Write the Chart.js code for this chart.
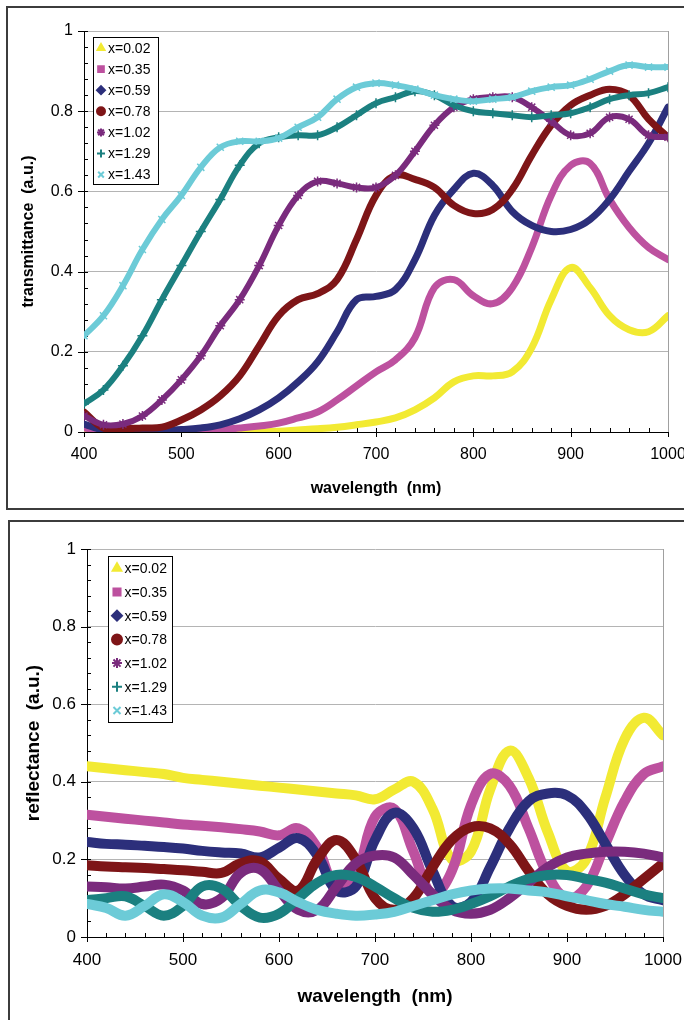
<!DOCTYPE html>
<html>
<head>
<meta charset="utf-8">
<script src="https://cdn.jsdelivr.net/npm/chart.js@4/dist/chart.umd.min.js"></script>
<style>
  body { margin: 0; background: #fff; overflow: hidden; }
  #wrap { position: relative; width: 684px; height: 1020px; overflow: hidden; }
  .frame { position: absolute; border: 2px solid #3c3c3c; }
  canvas { position: absolute; left: 0; }
</style>
</head>
<body>
<div id="wrap">
  <div class="frame" style="left:6px; top:6px; width:720px; height:500px;"></div>
  <div class="frame" style="left:8px; top:520px; width:720px; height:600px;"></div>
  <canvas id="trans" width="720" height="510" style="top:0"></canvas>
  <canvas id="refl" width="720" height="510" style="top:510px"></canvas>
</div>
<script>
// wavelength grid (nm) shared by every series
const wavelength = [400, 420, 440, 460, 480, 500, 520, 540, 560, 580, 600, 620, 640, 660, 680, 700,
  720, 740, 760, 780, 800, 820, 840, 860, 880, 900, 920, 940, 960, 980, 1000];

const seriesLabels = ['x=0.02', 'x=0.35', 'x=0.59', 'x=0.78', 'x=1.02', 'x=1.29', 'x=1.43'];
const seriesColors = ['#f2ea33', '#bd519f', '#2c2f7b', '#7e1517', '#7a2b7d', '#1b8080', '#6ccbd7'];
const seriesMarkers = ['triangle', 'rect', 'rectRot', 'circle', 'star', 'cross', 'crossRot'];

// transmittance (a.u.)
const tr002 = [0, 0, 0, 0, 0, 0, 0, 0, 0, 0, 0.002, 0.005, 0.008, 0.012, 0.018, 0.025,
  0.035, 0.055, 0.085, 0.125, 0.14, 0.14, 0.15, 0.21, 0.33, 0.41, 0.36, 0.29, 0.255, 0.25, 0.29];
const tr035 = [0.01, 0.003, 0.002, 0.002, 0.002, 0.003, 0.004, 0.006, 0.01, 0.015, 0.022, 0.035, 0.05, 0.08, 0.115, 0.15,
  0.18, 0.235, 0.36, 0.38, 0.34, 0.32, 0.36, 0.46, 0.59, 0.665, 0.67, 0.58, 0.51, 0.46, 0.43];
const tr059 = [0.02, 0.005, 0.003, 0.003, 0.004, 0.006, 0.01, 0.018, 0.033, 0.055, 0.085, 0.125, 0.175, 0.25, 0.33, 0.338,
  0.355, 0.43, 0.54, 0.605, 0.645, 0.615, 0.55, 0.515, 0.5, 0.505, 0.53, 0.58, 0.65, 0.72, 0.81];
const tr078 = [0.05, 0.01, 0.008, 0.01, 0.012, 0.03, 0.055, 0.09, 0.14, 0.215, 0.29, 0.33, 0.345, 0.38, 0.48, 0.59,
  0.64, 0.63, 0.61, 0.565, 0.545, 0.555, 0.605, 0.69, 0.765, 0.815, 0.84, 0.855, 0.84, 0.78, 0.735];
const tr102 = [0.04, 0.018, 0.02, 0.04, 0.08, 0.13, 0.19, 0.265, 0.33, 0.415, 0.515, 0.59, 0.625, 0.62, 0.61, 0.61,
  0.64, 0.7, 0.765, 0.81, 0.83, 0.835, 0.835, 0.81, 0.775, 0.74, 0.745, 0.785, 0.78, 0.74, 0.735];
const tr129 = [0.07, 0.105, 0.165, 0.24, 0.33, 0.415, 0.5, 0.58, 0.665, 0.72, 0.735, 0.74, 0.74, 0.76, 0.79, 0.82,
  0.835, 0.85, 0.84, 0.815, 0.8, 0.795, 0.79, 0.785, 0.79, 0.795, 0.81, 0.83, 0.84, 0.845, 0.86];
const tr143 = [0.24, 0.29, 0.365, 0.455, 0.53, 0.59, 0.66, 0.71, 0.725, 0.725, 0.733, 0.76, 0.785, 0.83, 0.86, 0.87,
  0.865, 0.855, 0.84, 0.83, 0.825, 0.83, 0.835, 0.85, 0.86, 0.865, 0.88, 0.9, 0.915, 0.91, 0.91];

// reflectance (a.u.)
const rf002 = [0.44, 0.435, 0.43, 0.425, 0.42, 0.41, 0.405, 0.4, 0.395, 0.39, 0.385, 0.38, 0.375, 0.37, 0.365, 0.355,
  0.38, 0.4, 0.33, 0.2, 0.22, 0.38, 0.48, 0.41, 0.27, 0.17, 0.2, 0.36, 0.51, 0.565, 0.52];
const rf035 = [0.315, 0.31, 0.305, 0.3, 0.295, 0.29, 0.287, 0.283, 0.278, 0.272, 0.262, 0.28, 0.23, 0.125, 0.16, 0.31,
  0.33, 0.22, 0.11, 0.17, 0.34, 0.42, 0.39, 0.28, 0.16, 0.1, 0.13, 0.24, 0.35, 0.42, 0.44];
const rf059 = [0.245, 0.24, 0.238, 0.235, 0.232, 0.228, 0.222, 0.218, 0.215, 0.205, 0.23, 0.255, 0.21, 0.12, 0.13, 0.25,
  0.32, 0.28, 0.17, 0.08, 0.09, 0.18, 0.28, 0.35, 0.37, 0.365, 0.32, 0.24, 0.16, 0.11, 0.095];
const rf078 = [0.185, 0.182, 0.18, 0.178, 0.175, 0.172, 0.168, 0.165, 0.19, 0.195, 0.15, 0.12, 0.2, 0.25, 0.2, 0.1,
  0.07, 0.1, 0.18, 0.25, 0.283, 0.28, 0.24, 0.17, 0.11, 0.08, 0.07, 0.08, 0.11, 0.15, 0.19];
const rf102 = [0.13, 0.128, 0.125, 0.13, 0.135, 0.12, 0.085, 0.1, 0.165, 0.175, 0.12, 0.07, 0.07, 0.13, 0.19, 0.21,
  0.205, 0.16, 0.11, 0.07, 0.06, 0.07, 0.1, 0.14, 0.18, 0.205, 0.215, 0.22, 0.22, 0.215, 0.205];
const rf129 = [0.095, 0.1, 0.105, 0.08, 0.055, 0.08, 0.13, 0.125, 0.08, 0.05, 0.06, 0.1, 0.14, 0.16, 0.155, 0.13,
  0.1, 0.075, 0.065, 0.07, 0.085, 0.105, 0.13, 0.15, 0.16, 0.16, 0.15, 0.14, 0.125, 0.11, 0.1];
const rf143 = [0.085, 0.075, 0.055, 0.08, 0.11, 0.09, 0.055, 0.05, 0.085, 0.12, 0.115, 0.09, 0.07, 0.06, 0.055, 0.058,
  0.065, 0.08, 0.095, 0.11, 0.12, 0.125, 0.125, 0.12, 0.115, 0.105, 0.095, 0.085, 0.078, 0.07, 0.065];

const xTicks = [400, 500, 600, 700, 800, 900, 1000];
const yTicks = ['0', '0.2', '0.4', '0.6', '0.8', '1'];

const FONT = "'Liberation Sans', Arial, sans-serif";

// boxed legend drawn inside the plot, like the original spreadsheet chart
const boxLegend = {
  id: 'boxLegend',
  afterDraw(chart, args, o) {
    const ctx = chart.ctx;
    ctx.save();
    ctx.fillStyle = '#fff';
    ctx.fillRect(o.x, o.y, o.w, o.h);
    ctx.strokeStyle = '#000';
    ctx.lineWidth = 1;
    ctx.strokeRect(o.x + 0.5, o.y + 0.5, o.w, o.h);
    ctx.font = '14px ' + FONT;
    ctx.textBaseline = 'middle';
    chart.data.datasets.forEach((ds, i) => {
      const cy = o.y + o.first + i * o.row;
      ctx.fillStyle = ds.borderColor;
      ctx.strokeStyle = ds.borderColor;
      ctx.lineWidth = 2;
      Chart.helpers.drawPoint(ctx, { pointStyle: ds.marker, radius: o.r, borderWidth: 2, rotation: 0 }, o.x + o.mx, cy);
      ctx.fillStyle = '#000';
      ctx.fillText(ds.label, o.x + o.tx, cy + 1);
    });
    ctx.restore();
  }
};

// major ticks cross the axes, minor ticks point inward; grey right edge
const axisMarks = {
  id: 'axisMarks',
  beforeDatasetsDraw(chart) {
    const { ctx, chartArea: a, scales: { x, y } } = chart;
    ctx.save();
    ctx.strokeStyle = '#000';
    ctx.lineWidth = 1;
    ctx.beginPath();
    for (let i = 0; i <= 30; i++) {
      const px = Math.round(x.getPixelForValue(400 + i * 20)) + 0.5;
      const major = i % 5 === 0;
      ctx.moveTo(px, a.bottom - 4);
      ctx.lineTo(px, a.bottom + (major ? 5 : 0));
    }
    for (let i = 0; i <= 25; i++) {
      const py = Math.round(y.getPixelForValue(i * 0.04)) + 0.5;
      const major = i % 5 === 0;
      ctx.moveTo(a.left - (major ? 6 : 0), py);
      ctx.lineTo(a.left + 4, py);
    }
    ctx.stroke();
    ctx.strokeStyle = '#a0a0a0';
    ctx.beginPath();
    ctx.moveTo(Math.round(a.right) + 0.5, a.top);
    ctx.lineTo(Math.round(a.right) + 0.5, a.bottom);
    ctx.stroke();
    ctx.restore();
  }
};

function makeChart(id, cfg) {
  const datasets = cfg.series.map((vals, i) => {
    const dotted = cfg.dotted && i >= 4;
    return {
      label: seriesLabels[i],
      marker: seriesMarkers[i],
      data: wavelength.map((w, k) => ({ x: w, y: vals[k] })),
      showLine: true,
      borderColor: seriesColors[i],
      backgroundColor: seriesColors[i],
      borderWidth: dotted ? 6 : cfg.lineWidth,
      borderCapStyle: 'round',
      tension: 0.4,
      pointStyle: seriesMarkers[i],
      pointRadius: dotted ? 5 : 0,
      pointBorderWidth: 1.5,
      order: 6 - i
    };
  });
  return new Chart(document.getElementById(id), {
    type: 'scatter',
    data: { datasets },
    plugins: [axisMarks, boxLegend],
    options: {
      responsive: false,
      animation: false,
      devicePixelRatio: 1,
      layout: { padding: { top: cfg.top, right: cfg.right, left: 0, bottom: 0 } },
      plugins: {
        legend: { display: false },
        tooltip: { enabled: false },
        boxLegend: cfg.legend
      },
      scales: {
        x: {
          type: 'linear', min: 400, max: 1000,
          afterBuildTicks: s => { s.ticks = xTicks.map(v => ({ value: v })); },
          afterFit: s => { s.height = cfg.xHeight; },
          grid: { display: false, drawTicks: false },
          border: { display: true, color: '#000', width: 1 },
          ticks: {
            color: '#000', padding: cfg.xPad, maxRotation: 0, autoSkip: false,
            font: { family: FONT, size: cfg.tickSize },
            callback: v => String(v)
          },
          title: {
            display: true, text: 'wavelength  (nm)', color: '#000',
            font: { family: FONT, size: cfg.titleSize, weight: 'bold' },
            padding: { top: 0, bottom: cfg.xTitlePad }
          }
        },
        y: {
          type: 'linear', min: 0, max: 1,
          afterBuildTicks: s => { s.ticks = yTicks.map(t => ({ value: Number(t) })); },
          afterFit: s => { s.width = cfg.yWidth; },
          grid: { color: '#b4b4b4', drawTicks: false },
          border: { display: true, color: '#000', width: 1 },
          ticks: {
            color: '#000', padding: 11,
            font: { family: FONT, size: cfg.tickSize },
            callback: (v, i) => yTicks[i]
          },
          title: {
            display: true, text: cfg.yTitle, color: '#000',
            font: { family: FONT, size: cfg.titleSize, weight: 'bold' },
            padding: { top: cfg.yTitlePad, bottom: 0 }
          }
        }
      }
    }
  });
}

makeChart('trans', {
  series: [tr002, tr035, tr059, tr078, tr102, tr129, tr143],
  dotted: true, lineWidth: 7,
  top: 31, right: 52, yWidth: 84, xHeight: 78,
  tickSize: 16, titleSize: 16, xPad: 13, xTitlePad: 12, yTitlePad: 19,
  yTitle: 'transmittance  (a.u.)',
  legend: { x: 93, y: 37, w: 65, h: 147, first: 11, row: 21.1, mx: 8, tx: 15, r: 4 }
});

makeChart('refl', {
  series: [rf002, rf035, rf059, rf078, rf102, rf129, rf143],
  dotted: false, lineWidth: 10,
  top: 39, right: 57, yWidth: 87, xHeight: 83,
  tickSize: 17, titleSize: 19, xPad: 13, xTitlePad: 12, yTitlePad: 22,
  yTitle: 'reflectance  (a.u.)',
  legend: { x: 108, y: 46, w: 64, h: 166, first: 12.3, row: 23.7, mx: 9, tx: 16.5, r: 5 }
});
</script>
</body>
</html>
